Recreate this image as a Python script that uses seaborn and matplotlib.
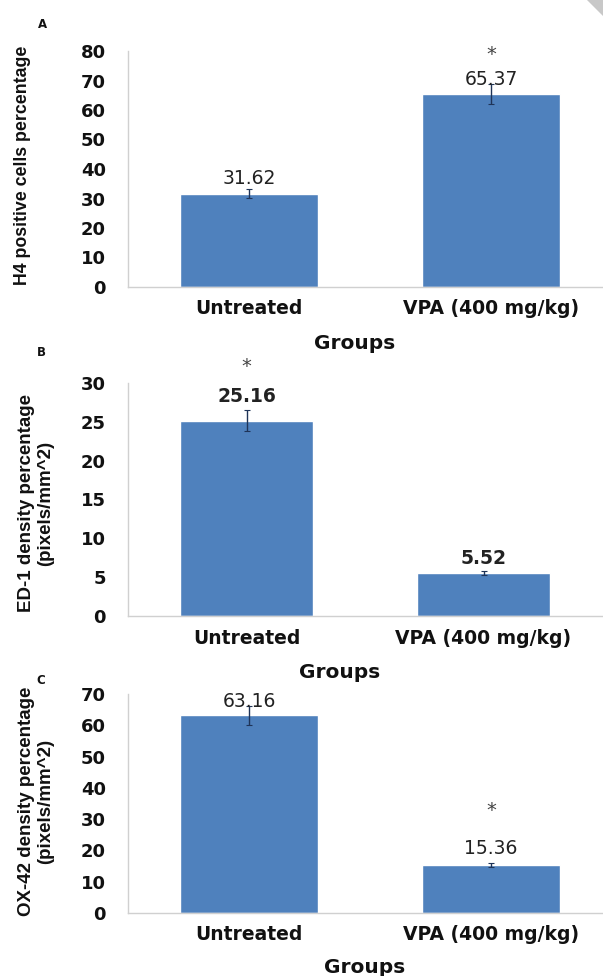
import matplotlib
matplotlib.use("Agg")
import matplotlib.pyplot as plt
from matplotlib.patches import Polygon
import seaborn as sns
import pandas as pd

# ---- data ----
groups = ["Untreated", "VPA (400 mg/kg)"]
h4_values = [31.62, 65.37]
h4_errors = [1.5, 3.4]
ed1_values = [25.16, 5.52]
ed1_errors = [1.3, 0.3]
ox42_values = [63.16, 15.36]
ox42_errors = [3.0, 0.6]
h4_sig = [False, True]
ed1_sig = [True, False]
ox42_sig = [False, True]

sns.set_theme(style="white")
plt.rcParams["font.family"] = ["DejaVu Sans"]

W, H = 603, 976
DPI = 100
fig = plt.figure(figsize=(W / DPI, H / DPI), dpi=DPI)
fig.patch.set_facecolor("white")

BAR = "#4f81bd"
ERR = "#1f3458"
SPINE = "#d0d0d0"
NARROW = ["Liberation Sans Narrow", "Liberation Sans", "DejaVu Sans"]

panels = [
    dict(letter="A", vals=h4_values, errs=h4_errors, sig=h4_sig,
         ylabel="H4 positive cells percentage", ymax=80, ystep=10,
         box=(128, 51, 484, 236), bold_labels=False, ylab_size=12.8,
         lab_off=15, star_off=40, ylab_x=23, ylab_y=165, letter_xy=(42, 24),
         grp_x=355, grp_top=334, barw=0.57),
    dict(letter="B", vals=ed1_values, errs=ed1_errors, sig=ed1_sig,
         ylabel="ED-1 density percentage\n(pixels/mm^2)", ymax=30, ystep=5,
         box=(128, 383, 474, 233), bold_labels=True, ylab_size=13.5,
         lab_off=[24, 15], star_off=54, ylab_x=36, ylab_y=503, letter_xy=(41, 352),
         grp_x=340, grp_top=663, barw=0.56),
    dict(letter="C", vals=ox42_values, errs=ox42_errors, sig=ox42_sig,
         ylabel="OX-42 density percentage\n(pixels/mm^2)", ymax=70, ystep=10,
         box=(128, 694, 484, 219), bold_labels=False, ylab_size=13.5,
         lab_off=[14, 16], star_off=54, ylab_x=36, ylab_y=801, letter_xy=(41, 680),
         grp_x=365, grp_top=958, barw=0.57),
]

for p in panels:
    left, top, w, h = p["box"]
    ax = fig.add_axes([left / W, 1 - (top + h) / H, w / W, h / H])
    df = pd.DataFrame({"group": groups, "value": p["vals"]})
    sns.barplot(data=df, x="group", y="value", ax=ax, color=BAR,
                saturation=1, width=p["barw"], errorbar=None)
    ax.errorbar(x=[0, 1], y=p["vals"], yerr=p["errs"], fmt="none",
                ecolor=ERR, elinewidth=1.0, capsize=2.5, capthick=0.8)
    ax.set_xlim(-0.5, 1.5)
    ax.set_ylim(0, p["ymax"])
    ax.set_yticks(range(0, p["ymax"] + 1, p["ystep"]))
    ax.tick_params(axis="both", length=0)
    ax.tick_params(axis="y", pad=16, labelsize=13)
    ax.tick_params(axis="x", pad=9, labelsize=13.5)
    for t in ax.get_yticklabels() + ax.get_xticklabels():
        t.set_fontweight("bold")
        t.set_color("#111111")
    for s in ["top", "right"]:
        ax.spines[s].set_visible(False)
    for s in ["left", "bottom"]:
        ax.spines[s].set_color(SPINE)
        ax.spines[s].set_linewidth(1.0)
    ax.set_ylabel("")
    ax.set_xlabel("Groups", fontsize=14.5, fontweight="bold", color="#111111")
    ax.xaxis.set_label_coords((p["grp_x"] - left) / w, -(p["grp_top"] - (top + h)) / h)

    offs = p["lab_off"] if isinstance(p["lab_off"], list) else [p["lab_off"]] * 2
    for i, (v, e) in enumerate(zip(p["vals"], p["errs"])):
        ax.annotate(f"{v:.2f}", xy=(i, v), xytext=(0, offs[i] * 72 / DPI),
                    textcoords="offset points", ha="center", va="center",
                    fontsize=13.5, fontweight="bold" if p["bold_labels"] else "normal",
                    color="#222222")
        if p["sig"][i]:
            ax.annotate("*", xy=(i, v), xytext=(0, p["star_off"] * 72 / DPI),
                        textcoords="offset points", ha="center", va="center",
                        fontsize=14, color="#444444", annotation_clip=False)

    fig.text(p["ylab_x"] / W, 1 - p["ylab_y"] / H, p["ylabel"], rotation=90,
             ha="center", va="center", fontsize=p["ylab_size"], fontweight="bold",
             family=NARROW, color="#111111", linespacing=1.1)
    fig.text(p["letter_xy"][0] / W, 1 - p["letter_xy"][1] / H, p["letter"],
             ha="center", va="center", fontsize=8.5, fontweight="bold",
             color="#111111")

# scan artefact in the top-right corner
fig.patches.append(Polygon([[587 / W, 1.0], [1.0, 1.0], [1.0, 1 - 16 / H]],
                           closed=True, transform=fig.transFigure,
                           facecolor="#c8c8c8", edgecolor="none"))

fig.savefig("out.png", dpi=DPI, facecolor="white")
